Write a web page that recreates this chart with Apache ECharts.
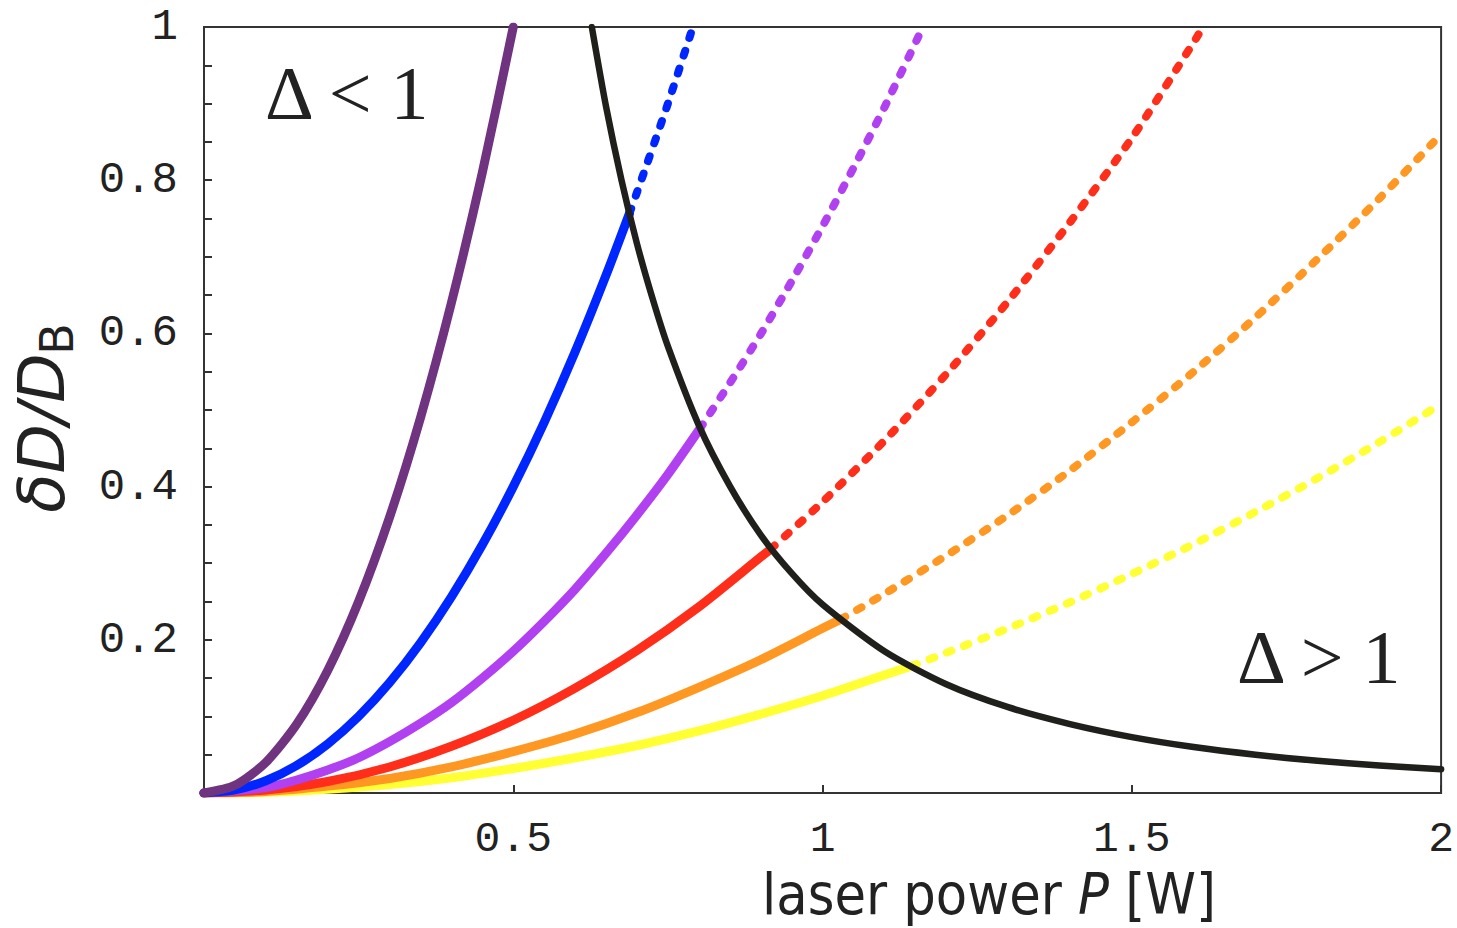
<!DOCTYPE html>
<html>
<head>
<meta charset="utf-8">
<title>Relative diffusion change vs laser power</title>
<script src="https://cdn.jsdelivr.net/npm/echarts@6/dist/echarts.min.js"></script>
<style>
  html, body { margin: 0; padding: 0; background: #fff; }
  #chart { width: 1457px; height: 928px; }
</style>
</head>
<body>
<div id="chart"></div>
<script>
// values, as [P in W, dD/D_B]
// solid part = below the black boundary, dashed part = above it
const darkPurple = [[0, 0], [0.05, 0.01], [0.1, 0.04], [0.15, 0.09], [0.2, 0.16], [0.25, 0.25],
  [0.3, 0.36], [0.35, 0.49], [0.4, 0.64], [0.45, 0.81], [0.5, 1.0]];

const blueSolid = [[0, 0], [0.05, 0.004], [0.1, 0.016], [0.15, 0.036], [0.2, 0.064], [0.25, 0.1],
  [0.3, 0.144], [0.35, 0.196], [0.4, 0.256], [0.45, 0.324], [0.5, 0.4], [0.55, 0.484],
  [0.6, 0.576], [0.65, 0.676], [0.688, 0.757]];
const blueDashed = [[0.688, 0.757], [0.7, 0.784], [0.75, 0.9], [0.79, 0.999]];

const violetSolid = [[0, 0], [0.1, 0.007], [0.15, 0.017], [0.2, 0.03], [0.25, 0.046], [0.3, 0.067],
  [0.35, 0.091], [0.4, 0.118], [0.45, 0.15], [0.5, 0.185], [0.55, 0.224], [0.6, 0.266],
  [0.65, 0.313], [0.7, 0.363], [0.75, 0.416], [0.802, 0.476]];
const violetDashed = [[0.802, 0.476], [0.85, 0.535], [0.9, 0.599], [0.95, 0.668], [1.0, 0.74],
  [1.05, 0.816], [1.1, 0.895], [1.16, 0.996]];

const redSolid = [[0, 0], [0.1, 0.004], [0.2, 0.015], [0.3, 0.034], [0.4, 0.061], [0.5, 0.095],
  [0.6, 0.137], [0.7, 0.186], [0.8, 0.243], [0.9, 0.308], [0.917, 0.319]];
const redDashed = [[0.917, 0.319], [1.0, 0.38], [1.1, 0.46], [1.2, 0.547], [1.3, 0.642],
  [1.4, 0.745], [1.5, 0.855], [1.6, 0.98], [1.615, 1.0]];

const orangeSolid = [[0, 0], [0.1, 0.002], [0.2, 0.009], [0.3, 0.019], [0.4, 0.034], [0.5, 0.054],
  [0.6, 0.077], [0.7, 0.105], [0.8, 0.138], [0.9, 0.174], [1.0, 0.215], [1.03, 0.227]];
const orangeDashed = [[1.03, 0.227], [1.1, 0.26], [1.2, 0.31], [1.3, 0.363], [1.4, 0.421],
  [1.5, 0.484], [1.6, 0.55], [1.7, 0.621], [1.8, 0.697], [1.9, 0.776], [2.0, 0.86]];

const yellowSolid = [[0, 0], [0.1, 0.001], [0.2, 0.005], [0.3, 0.011], [0.4, 0.02], [0.5, 0.032],
  [0.6, 0.046], [0.7, 0.062], [0.8, 0.081], [0.9, 0.103], [1.0, 0.127], [1.1, 0.154], [1.145, 0.166]];
const yellowDashed = [[1.145, 0.166], [1.2, 0.183], [1.3, 0.215], [1.4, 0.249], [1.5, 0.286],
  [1.6, 0.325], [1.7, 0.367], [1.8, 0.411], [1.9, 0.458], [2.0, 0.508]];

// boundary Delta = 1
const boundary = [[0.627, 1.0], [0.65, 0.896], [0.675, 0.8], [0.7, 0.717], [0.725, 0.646],
  [0.75, 0.583], [0.8, 0.48], [0.85, 0.401], [0.9, 0.337], [0.95, 0.287], [1.0, 0.246],
  [1.1, 0.185], [1.2, 0.142], [1.3, 0.112], [1.4, 0.09], [1.5, 0.073], [1.6, 0.06],
  [1.7, 0.05], [1.8, 0.042], [1.9, 0.036], [2.0, 0.031]];

const xTicks = [0.5, 1, 1.5, 2];
const yTicks = [0.2, 0.4, 0.6, 0.8, 1];

const axisColor = '#333';
const textColor = '#222';
const tickFont = 'Liberation Mono, DejaVu Sans Mono, monospace';
const titleFont = "'DejaVu Sans Condensed', 'DejaVu Sans', sans-serif";
const mathFont = 'Liberation Serif, DejaVu Serif, serif';

function curve(data, color, dashed, width) {
  return {
    type: 'line',
    data,
    symbol: 'none',
    smooth: 0.25,
    silent: true,
    lineStyle: {
      color,
      width: width || (dashed ? 8 : 9),
      type: dashed ? [5, 13.5] : 'solid',
      cap: 'round',
      join: 'round',
    },
  };
}

function tickLabel(ticks) {
  return (v) => {
    const hit = ticks.find(t => Math.abs(t - v) < 1e-6);
    return hit === undefined ? '' : String(hit);
  };
}

const chart = echarts.init(document.getElementById('chart'), null, { renderer: 'svg' });

chart.setOption({
  animation: false,
  backgroundColor: '#fff',
  grid: {
    left: 204, top: 27, right: 12, bottom: 135,
    show: true, borderColor: axisColor, borderWidth: 2, backgroundColor: 'transparent',
  },
  xAxis: {
    type: 'value', min: 0, max: 2, interval: 0.5,
    axisLine: { show: true, lineStyle: { color: axisColor, width: 2 } },
    axisTick: { show: true, inside: true, length: 8, lineStyle: { color: axisColor, width: 2 } },
    splitLine: { show: false },
    axisLabel: {
      formatter: tickLabel(xTicks), fontFamily: tickFont, fontSize: 43, lineHeight: 38,
      color: textColor, margin: 27,
    },
  },
  yAxis: {
    type: 'value', min: 0, max: 1, interval: 0.2,
    axisLine: { show: true, lineStyle: { color: axisColor, width: 2 } },
    axisTick: { show: true, inside: true, length: 8, lineStyle: { color: axisColor, width: 2 } },
    minorTick: { show: true, splitNumber: 4, length: 8, lineStyle: { color: axisColor, width: 2 } },
    splitLine: { show: false },
    minorSplitLine: { show: false },
    axisLabel: {
      formatter: tickLabel(yTicks), fontFamily: tickFont, fontSize: 44, lineHeight: 40,
      color: textColor, margin: 26,
    },
  },
  series: [
    curve(yellowSolid, '#ffff33', false),
    curve(yellowDashed, '#ffff33', true),
    curve(orangeSolid, '#ff9822', false),
    curve(orangeDashed, '#ff9822', true),
    curve(redSolid, '#ff2e1a', false),
    curve(redDashed, '#ff2e1a', true),
    curve(violetSolid, '#b040f0', false),
    curve(violetDashed, '#b040f0', true),
    curve(blueSolid, '#0026ff', false),
    curve(blueDashed, '#0026ff', true),
    curve(darkPurple, '#703380', false),
    curve(boundary, '#1f201c', false, 6.5),
  ],
  graphic: [
    {
      type: 'text', x: 989, y: 894,
      style: {
        text: '{n|laser power }{i|P}{n| [W]}',
        align: 'center', verticalAlign: 'middle',
        rich: {
          n: { fontFamily: titleFont, fontSize: 57, lineHeight: 52, fill: textColor },
          i: { fontFamily: titleFont, fontSize: 57, lineHeight: 52, fontStyle: 'italic', fill: textColor },
        },
      },
    },
    {
      type: 'text', x: 42, y: 433, rotation: Math.PI / 2,
      style: {
        text: 'δD/D', fontFamily: 'DejaVu Sans, sans-serif', fontSize: 64, fontStyle: 'italic',
        fill: textColor, align: 'center', verticalAlign: 'middle',
      },
    },
    {
      type: 'text', x: 57, y: 339, rotation: Math.PI / 2,
      style: {
        text: 'B', fontFamily: 'DejaVu Sans, sans-serif', fontSize: 46,
        fill: textColor, align: 'center', verticalAlign: 'middle',
      },
    },
    {
      type: 'text', x: 265, y: 93,
      style: {
        text: 'Δ < 1', fontFamily: mathFont, fontSize: 76,
        fill: textColor, align: 'left', verticalAlign: 'middle',
      },
    },
    {
      type: 'text', x: 1237, y: 657,
      style: {
        text: 'Δ > 1', fontFamily: mathFont, fontSize: 76,
        fill: textColor, align: 'left', verticalAlign: 'middle',
      },
    },
  ],
});
</script>
</body>
</html>
